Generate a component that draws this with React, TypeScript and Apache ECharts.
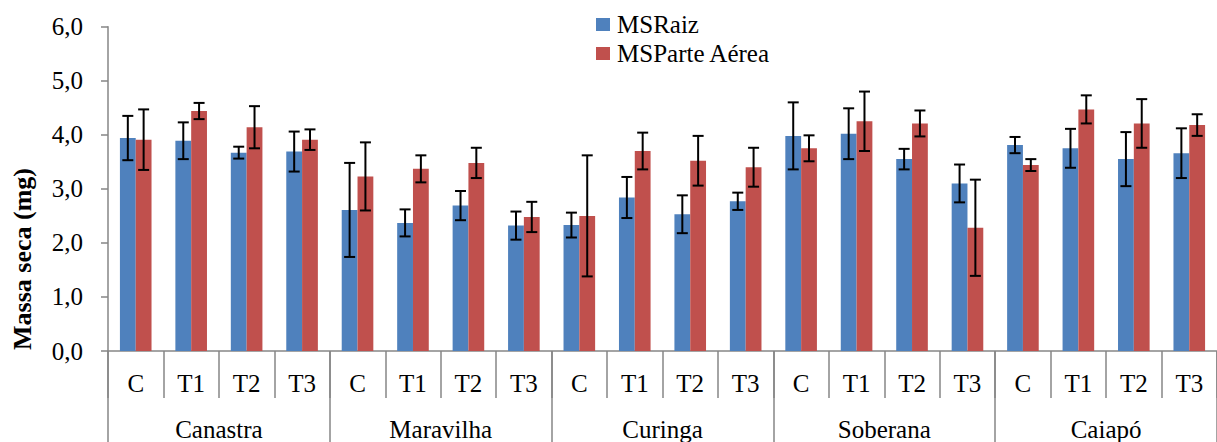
import React, { useEffect, useRef } from "react";
import * as echarts from "echarts";

const treatments = ["C", "T1", "T2", "T3"];
const cultivars = ["Canastra", "Maravilha", "Curinga", "Soberana", "Caiapó"];
const categories = cultivars.flatMap((c) => treatments.map((t) => `${c}-${t}`));

const msRaiz = [3.94, 3.89, 3.67, 3.69, 2.61, 2.37, 2.69, 2.32, 2.33, 2.84, 2.53, 2.77, 3.98, 4.02, 3.55, 3.10, 3.81, 3.75, 3.55, 3.66];
const msRaizErr = [0.41, 0.34, 0.11, 0.37, 0.87, 0.25, 0.27, 0.26, 0.23, 0.38, 0.35, 0.16, 0.62, 0.47, 0.19, 0.35, 0.15, 0.36, 0.50, 0.46];
const msAerea = [3.91, 4.44, 4.14, 3.91, 3.23, 3.37, 3.48, 2.48, 2.50, 3.70, 3.52, 3.40, 3.75, 4.25, 4.21, 2.28, 3.44, 4.47, 4.21, 4.18];
const msAereaErr = [0.56, 0.15, 0.39, 0.19, 0.63, 0.25, 0.28, 0.28, 1.12, 0.34, 0.46, 0.36, 0.24, 0.55, 0.24, 0.89, 0.11, 0.26, 0.45, 0.20];

const yTicks = { min: 0, max: 6, interval: 1 };

const FONT = "Liberation Serif";
const BLUE = "#4F81BD";
const RED = "#C0504D";
const AXIS = "#868686";
const CAT_GAP = 0.43;

function errorSeries(name: string, values: number[], errs: number[], side: number) {
  return {
    type: "custom",
    name: name + "-err",
    xAxisIndex: 0,
    yAxisIndex: 0,
    silent: true,
    z: 10,
    data: values.map((v, i) => [i, v, errs[i]]),
    renderItem: (params: any, api: any) => {
      const idx = api.value(0);
      const v = api.value(1);
      const e = api.value(2);
      const band = api.size([1, 0])[0];
      const barW = (band * (1 - CAT_GAP)) / 2;
      const top = api.coord([idx, v + e]);
      const bot = api.coord([idx, v - e]);
      const x = top[0] + (side * barW) / 2;
      const cap = 5.5;
      const style = { stroke: "#000", lineWidth: 2 };
      return {
        type: "group",
        children: [
          { type: "line", shape: { x1: x, y1: top[1], x2: x, y2: bot[1] }, style },
          { type: "line", shape: { x1: x - cap, y1: top[1], x2: x + cap, y2: top[1] }, style },
          { type: "line", shape: { x1: x - cap, y1: bot[1], x2: x + cap, y2: bot[1] }, style },
        ],
      };
    },
  };
}

export default function App() {
  const ref = useRef<HTMLDivElement>(null);
  useEffect(() => {
    if (!ref.current) return;
    const chart = echarts.init(ref.current, null, { renderer: "svg" });
    chart.setOption({
      animation: false,
      textStyle: { fontFamily: FONT },
      grid: { left: 108, top: 26.7, width: 1120, bottom: 90.7, containLabel: false },
      legend: {
        orient: "vertical",
        left: 596,
        top: 12,
        padding: 0,
        icon: "rect",
        itemWidth: 14,
        itemHeight: 13,
        itemGap: 4,
        data: ["MSRaiz", "MSParte Aérea"],
        textStyle: { fontFamily: FONT, fontSize: 25, lineHeight: 25, color: "#000", padding: [0, 0, 0, 2] },
      },
      xAxis: [
        {
          type: "category",
          data: categories,
          position: "bottom",
          axisLine: { show: true, lineStyle: { color: AXIS, width: 1.5 } },
          axisTick: { show: true, length: 47, interval: 0, lineStyle: { color: AXIS, width: 1.5 } },
          axisLabel: {
            interval: 0,
            margin: 20,
            color: "#000",
            fontSize: 25,
            fontFamily: FONT,
            formatter: (v: string) => v.split("-")[1],
          },
        },
        {
          type: "category",
          data: cultivars,
          position: "bottom",
          gridIndex: 0,
          axisLine: { show: false },
          axisTick: { show: true, length: 110, interval: 0, lineStyle: { color: AXIS, width: 1.5 } },
          axisLabel: { interval: 0, margin: 66, color: "#000", fontSize: 25, fontFamily: FONT },
        },
      ],
      yAxis: {
        type: "value",
        min: yTicks.min,
        max: yTicks.max,
        interval: yTicks.interval,
        splitLine: { show: false },
        axisLine: { show: true, lineStyle: { color: AXIS, width: 1.5 } },
        axisTick: { show: true, length: 7, lineStyle: { color: AXIS, width: 1.5 } },
        axisLabel: {
          margin: 25,
          color: "#000",
          fontSize: 25,
          fontFamily: FONT,
          formatter: (v: number) => v.toFixed(1).replace(".", ","),
        },
      },
      graphic: [
        {
          type: "text",
          x: 22,
          y: 259,
          rotation: Math.PI / 2,
          style: {
            text: "Massa seca (mg)",
            fontFamily: FONT,
            fontSize: 26,
            fontWeight: "bold",
            fill: "#000",
            align: "center",
            verticalAlign: "middle",
          },
        },
      ],
      series: [
        {
          type: "bar",
          name: "MSRaiz",
          data: msRaiz,
          barGap: "0%",
          barCategoryGap: "43%",
          itemStyle: { color: BLUE },
        },
        {
          type: "bar",
          name: "MSParte Aérea",
          data: msAerea,
          barGap: "0%",
          barCategoryGap: "43%",
          itemStyle: { color: RED },
        },
        errorSeries("MSRaiz", msRaiz, msRaizErr, -1),
        errorSeries("MSParte Aérea", msAerea, msAereaErr, 1),
      ],
    });
    return () => chart.dispose();
  }, []);
  return (
    <div
      ref={ref}
      style={{ position: "fixed", left: 0, top: 0, width: 1217, height: 442, background: "#fff" }}
    />
  );
}
